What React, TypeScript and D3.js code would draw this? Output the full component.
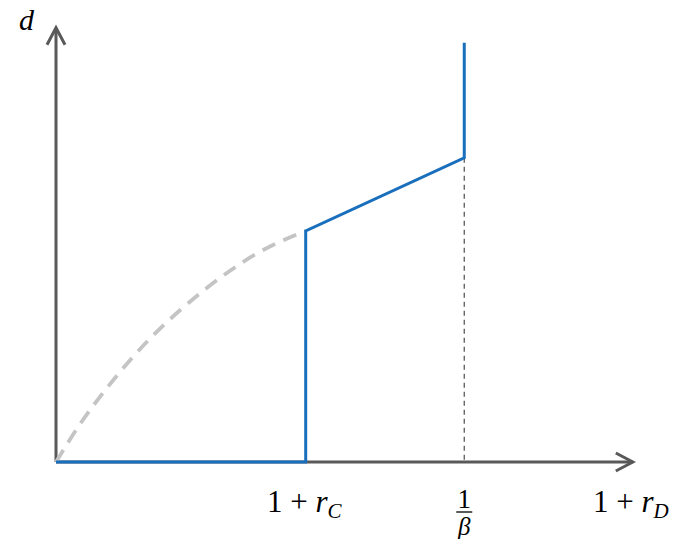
import React from "react";
import * as d3 from "d3";

// x positions (data units): origin, 1 + r_C, 1/beta, end of axis
const xTicks = [0, 1, 1.635, 2.31];
// y: top of arrow
const yMax = 1.88;

// blue schedule d(1 + r_D)
const bluePts: [number, number][] = [
  [0, 0],
  [1, 0],
  [1, 1],
  [1.635, 1.317],
  [1.635, 1.815],
];

// dashed grey curve
const curveX = [0, 0.1, 0.2, 0.3, 0.4, 0.5, 0.6, 0.7, 0.8, 0.9, 1];
const curveY = [0, 0.17, 0.315, 0.445, 0.56, 0.66, 0.75, 0.83, 0.9, 0.955, 1];

const W = 683;
const H = 539;
const AXIS = "#595959";
const BLUE = "#1a6fbd";
const FONT = "'Liberation Serif', serif";

const App = () => {
  const x = d3.scaleLinear().domain([0, 1]).range([56, 305.7]);
  const y = d3.scaleLinear().domain([0, 1]).range([462, 231]);

  const x0 = x(0), y0 = y(0);
  const xEnd = x(xTicks[3]);
  const yTop = y(yMax);

  const line = d3.line<[number, number]>().x(d => x(d[0])).y(d => y(d[1]));
  const curve = d3
    .line<number>()
    .x((_, i) => x(curveX[i]))
    .y(d => y(d))
    .curve(d3.curveMonotoneX);

  const xB = x(xTicks[2]);

  return (
    <svg width={W} height={H} style={{ position: "absolute", left: 0, top: 0 }}>
      <rect width={W} height={H} fill="#fff" />
      {/* axes */}
      <line x1={x0} y1={y0} x2={x0} y2={yTop} stroke={AXIS} strokeWidth={3} />
      <line x1={x0} y1={y0} x2={xEnd} y2={y0} stroke={AXIS} strokeWidth={3} />
      <path
        d={`M${x0 - 9},${yTop + 17}L${x0},${yTop}L${x0 + 9},${yTop + 17}`}
        fill="none" stroke={AXIS} strokeWidth={3} strokeLinejoin="miter"
      />
      <path
        d={`M${xEnd - 17},${y0 - 9}L${xEnd},${y0}L${xEnd - 17},${y0 + 9}`}
        fill="none" stroke={AXIS} strokeWidth={3} strokeLinejoin="miter"
      />

      {/* guide at 1/beta */}
      <line
        x1={xB} y1={y(bluePts[3][1])} x2={xB} y2={y0}
        stroke={AXIS} strokeWidth={1.3} strokeDasharray="5,4"
      />

      {/* grey dashed curve */}
      <path
        d={curve(curveY) || ""}
        fill="none" stroke="#c4c4c4" strokeWidth={3.8} strokeDasharray="14,9"
      />

      {/* blue */}
      <path d={line(bluePts) || ""} fill="none" stroke={BLUE} strokeWidth={3} />

      {/* labels */}
      <text x={19} y={30} fontFamily={FONT} fontStyle="italic" fontSize={30} fill="#000">d</text>

      <text x={267} y={512} fontFamily={FONT} fontSize={31} fill="#000">
        1 + <tspan fontStyle="italic">r</tspan>
        <tspan fontStyle="italic" fontSize={21} dy={6}>C</tspan>
      </text>

      <text x={xB} y={508} fontFamily={FONT} fontSize={27} textAnchor="middle" fill="#000">1</text>
      <line x1={xB - 8} y1={512} x2={xB + 8} y2={512} stroke="#000" strokeWidth={1.3} />
      <text x={xB} y={535} fontFamily={FONT} fontStyle="italic" fontSize={25} textAnchor="middle" fill="#000">β</text>

      <text x={593} y={512} fontFamily={FONT} fontSize={31} fill="#000">
        1 + <tspan fontStyle="italic">r</tspan>
        <tspan fontStyle="italic" fontSize={21} dy={6}>D</tspan>
      </text>
    </svg>
  );
};

export default App;
